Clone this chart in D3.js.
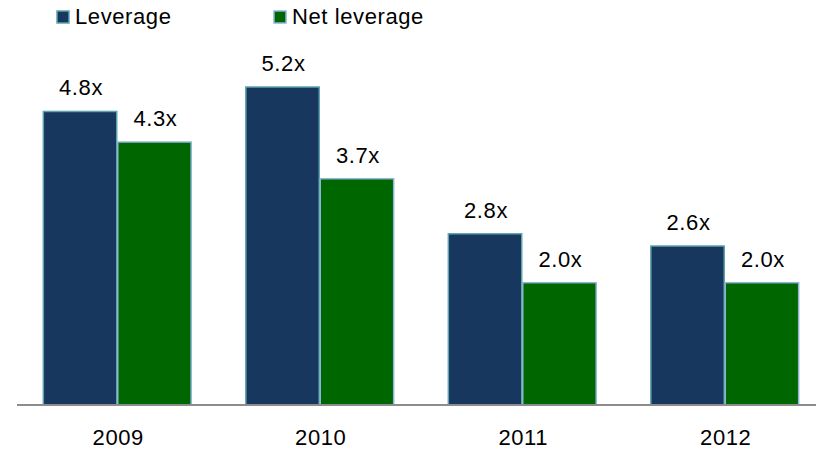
<!DOCTYPE html>
<html>
<head>
<meta charset="utf-8">
<script src="https://cdn.jsdelivr.net/npm/d3@7"></script>
<style>
  body { margin: 0; background: #fff; }
  text { font-family: "Liberation Sans", Arial, sans-serif; fill: #000; letter-spacing: 0.6px; }
</style>
</head>
<body>
<svg id="chart" width="816" height="449"></svg>
<script>
var years = ['2009', '2010', '2011', '2012'];
var seriesNames = ['Leverage', 'Net leverage'];
var leverage = [4.8, 5.2, 2.8, 2.6];
var netLeverage = [4.3, 3.7, 2.0, 2.0];

var colors = ['#17375E', '#006600'];
var outlines = ['#5FA3AC', '#8EB4D6'];

var svg = d3.select('#chart');

var x = d3.scaleBand().domain(years).range([16, 826]).paddingInner(0.265).paddingOuter(0.1325);
var inner = d3.scaleBand().domain(seriesNames).range([0, x.bandwidth()]);
var y = d3.scaleLinear().domain([0, 5.2]).range([405, 87]);

var rows = years.map(function(yr, i) {
  return { year: yr, values: [leverage[i], netLeverage[i]] };
});

var groups = svg.selectAll('.grp').data(rows).enter().append('g')
  .attr('class', 'grp')
  .attr('transform', function(d) { return 'translate(' + x(d.year) + ',0)'; });

groups.selectAll('rect').data(function(d) {
    return d.values.map(function(v, j) { return { name: seriesNames[j], v: v, j: j }; });
  }).enter().append('rect')
  .attr('x', function(d) { return inner(d.name) + 0.5; })
  .attr('y', function(d) { return y(d.v); })
  .attr('width', inner.bandwidth() - 1)
  .attr('height', function(d) { return y(0) - y(d.v); })
  .style('fill', function(d) { return colors[d.j]; })
  .style('stroke', function(d) { return outlines[d.j]; })
  .style('stroke-width', 1.5);

groups.selectAll('.lbl').data(function(d) {
    return d.values.map(function(v, j) { return { name: seriesNames[j], v: v }; });
  }).enter().append('text')
  .attr('class', 'lbl')
  .attr('x', function(d) { return inner(d.name) + inner.bandwidth() / 2 + 1; })
  .attr('y', function(d) { return y(d.v) - 16; })
  .attr('text-anchor', 'middle')
  .style('font-size', '22px')
  .text(function(d) { return d.v.toFixed(1) + 'x'; });

// axis
var xAxis = svg.append('g').attr('transform', 'translate(0,405)')
  .call(d3.axisBottom(x).tickSize(0).tickPadding(24));
xAxis.select('.domain').attr('d', 'M17,0H816').style('stroke', '#8C8C8C').style('stroke-width', 2);
xAxis.selectAll('text').style('font-size', '22px').attr('font-family', null).attr('dx', 1);

// legend
var legendX = [56, 273];
var legend = svg.selectAll('.leg').data(seriesNames).enter().append('g')
  .attr('class', 'leg')
  .attr('transform', function(d, i) { return 'translate(' + legendX[i] + ',10)'; });
legend.append('rect')
  .attr('x', 1).attr('y', 1).attr('width', 12).attr('height', 12)
  .style('fill', function(d, i) { return colors[i]; })
  .style('stroke', function(d, i) { return outlines[i]; })
  .style('stroke-width', 1.5);
legend.append('text')
  .attr('x', 19).attr('y', 14)
  .style('font-size', '22px')
  .text(function(d) { return d; });
</script>
</body>
</html>
